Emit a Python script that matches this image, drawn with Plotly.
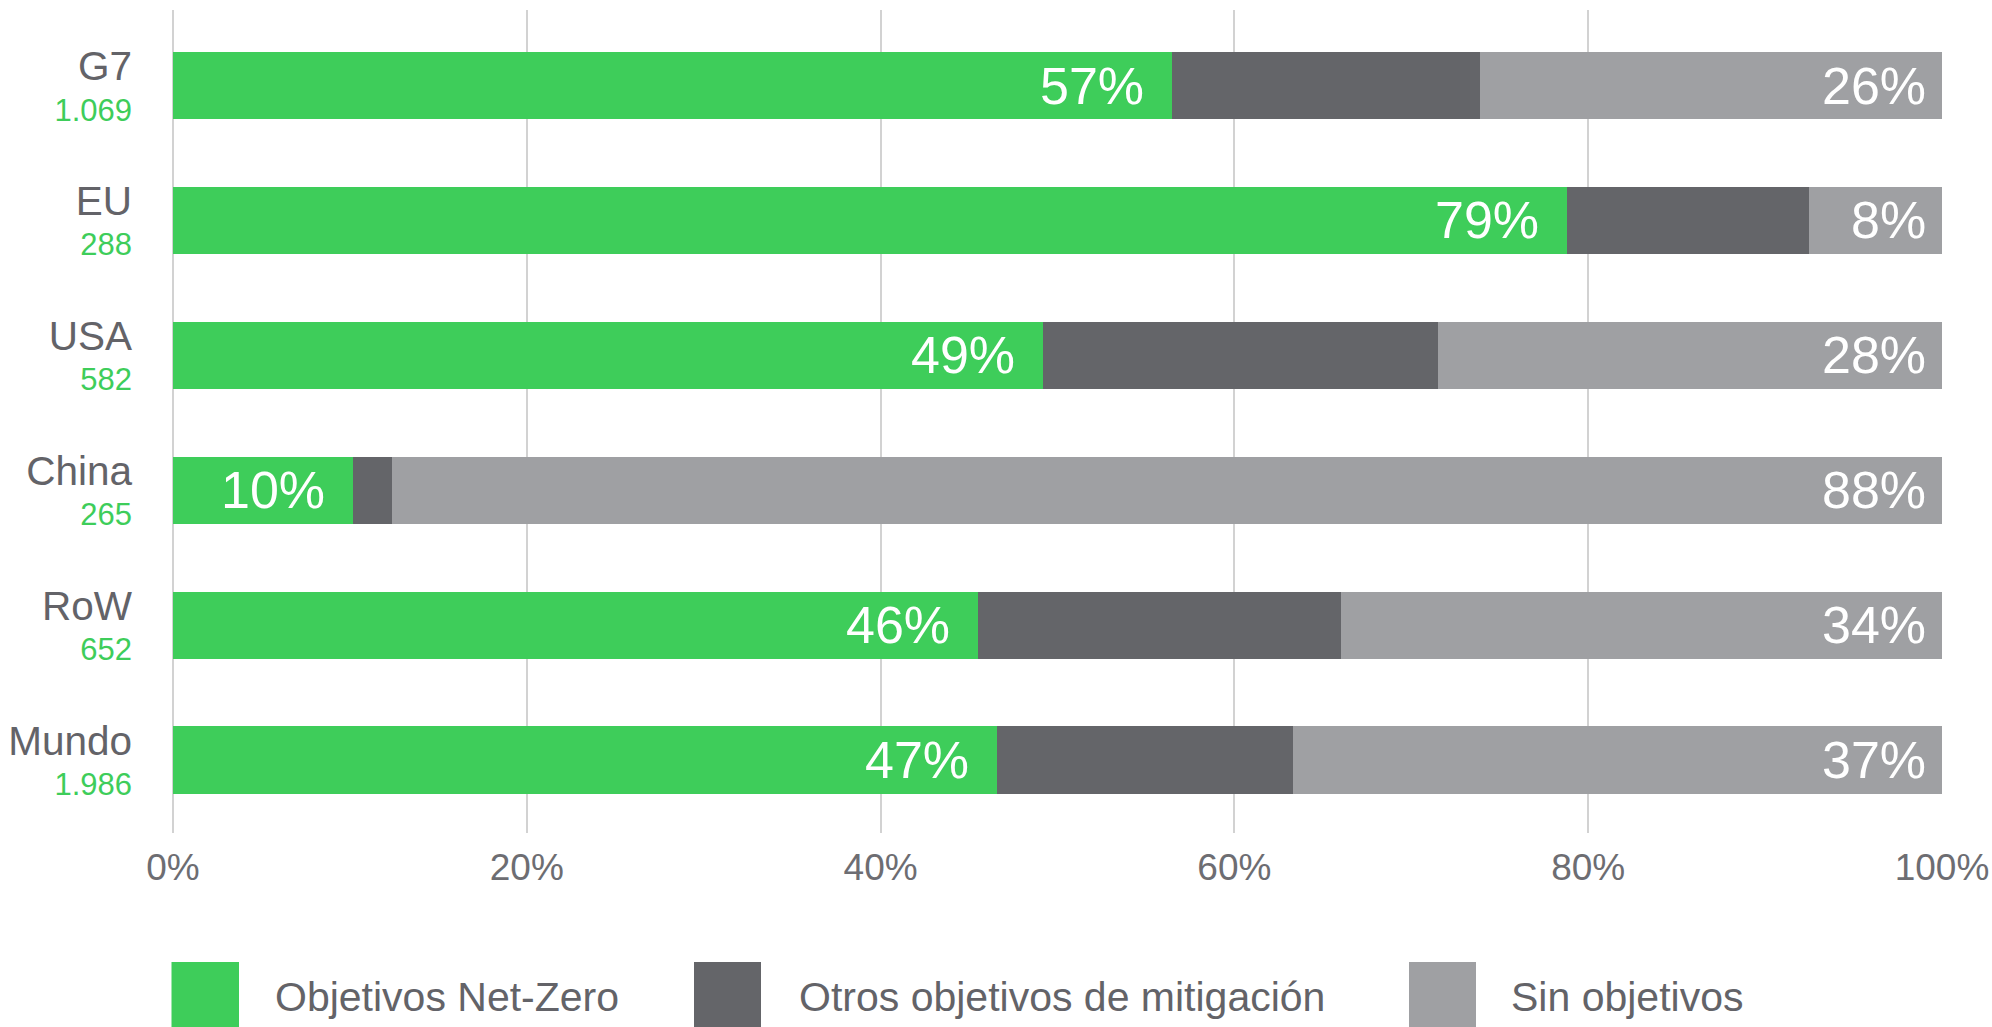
import plotly.graph_objects as go

# ---- data ----
regions = ["G7", "EU", "USA", "China", "RoW", "Mundo"]
counts = ["1.069", "288", "582", "265", "652", "1.986"]
net_zero = [56.5, 78.8, 49.2, 10.2, 45.5, 46.6]
other_mitigation = [17.4, 13.7, 22.3, 2.2, 20.5, 16.7]
no_targets = [26.1, 7.5, 28.5, 87.6, 34.0, 36.7]
net_zero_labels = ["57%", "79%", "49%", "10%", "46%", "47%"]
no_targets_labels = ["26%", "8%", "28%", "88%", "34%", "37%"]
series_names = ["Objetivos Net-Zero", "Otros objetivos de mitigación", "Sin objetivos"]
x_ticks = [0, 20, 40, 60, 80, 100]
x_tick_labels = ["0%", "20%", "40%", "60%", "80%", "100%"]

# ---- style ----
GREEN = "#3ecd5a"
DARK = "#646569"
LIGHT = "#9fa0a3"
TEXT_GRAY = "#636368"
GRID = "#d2d2d2"
FONT = "Liberation Sans, Arial, sans-serif"

W, H = 1992, 1027
ML, MR, MT, MB = 173, 50, 10, 194
PW, PH = W - ML - MR, H - MT - MB


def px_x(px):
    return (px - ML) / PW


def px_y(py):
    return (H - MB - py) / PH


fig = go.Figure()
for vals, name, color in zip([net_zero, other_mitigation, no_targets], series_names,
                             [GREEN, DARK, LIGHT]):
    fig.add_trace(go.Bar(
        y=regions, x=vals, name=name, orientation="h",
        marker=dict(color=color, line=dict(width=0)),
        width=0.5, showlegend=False, hoverinfo="x+name",
    ))

# bar value labels (right-aligned inside segment ends)
for i, r in enumerate(regions):
    fig.add_annotation(x=net_zero[i], y=r, xref="x", yref="y", text=net_zero_labels[i],
                       xanchor="right", yanchor="middle", xshift=-26, showarrow=False,
                       font=dict(family=FONT, size=52, color="white"))
    end = net_zero[i] + other_mitigation[i] + no_targets[i]
    fig.add_annotation(x=end, y=r, xref="x", yref="y", text=no_targets_labels[i],
                       xanchor="right", yanchor="middle", xshift=-14, showarrow=False,
                       font=dict(family=FONT, size=52, color="white"))

ticktext = [
    f"<span style='font-size:40.5px;color:{TEXT_GRAY}'>{r}</span><br>{c}"
    for r, c in zip(regions, counts)
]

# manual legend
legend_sq = [(171.5, 239), (694, 761), (1409, 1476)]
legend_tx = [273, 797, 1509]
for (x0, x1), tx, name, color in zip(legend_sq, legend_tx, series_names, [GREEN, DARK, LIGHT]):
    fig.add_shape(type="rect", xref="paper", yref="paper",
                  x0=px_x(x0), x1=px_x(x1), y0=px_y(962), y1=px_y(1040),
                  fillcolor=color, line=dict(width=0))
    fig.add_annotation(xref="paper", yref="paper", x=px_x(tx), y=px_y(997),
                       text=name, xanchor="left", yanchor="middle", showarrow=False,
                       font=dict(family=FONT, size=41, color=TEXT_GRAY))

fig.update_layout(
    barmode="stack",
    width=W, height=H,
    margin=dict(l=ML, r=MR, t=MT, b=MB, pad=0, autoexpand=False),
    plot_bgcolor="white", paper_bgcolor="white",
    font=dict(family=FONT, color=TEXT_GRAY),
    xaxis=dict(
        range=[0, 100], tickvals=x_ticks, ticktext=x_tick_labels,
        showgrid=True, gridcolor=GRID, gridwidth=2,
        zeroline=True, zerolinecolor=GRID, zerolinewidth=2,
        showline=False, ticks="", automargin=False,
        tickfont=dict(family=FONT, size=37, color="#6d6d72"),
        ticklabelstandoff=9,
    ),
    yaxis=dict(
        categoryorder="array", categoryarray=regions,
        tickvals=regions, ticktext=ticktext,
        range=[5.54, -0.56], automargin=False,
        showgrid=False, zeroline=False, showline=False, ticks="",
        tickfont=dict(family=FONT, size=31, color=GREEN),
        ticklabelstandoff=40, ticklabelshift=-4,
    ),
)

fig.write_html(
    "out.html",
    config={"displayModeBar": False},
    post_script="document.body.style.margin='0';document.body.style.overflow='hidden';",
)
